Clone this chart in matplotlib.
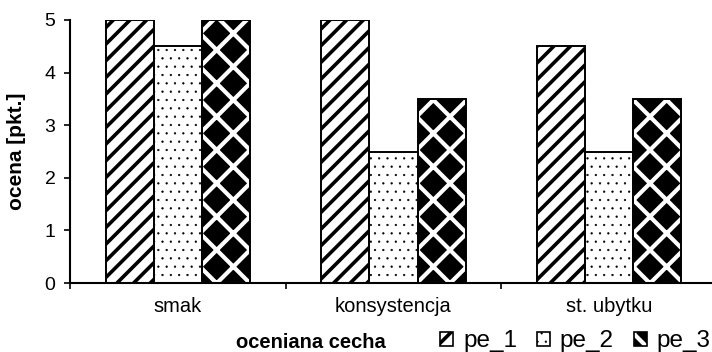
import matplotlib
matplotlib.use("Agg")
import matplotlib.pyplot as plt
import numpy as np
from matplotlib.patches import Patch, Rectangle

plt.rcParams['font.family'] = ['Liberation Sans', 'DejaVu Sans']

categories = ["smak", "konsystencja", "st. ubytku"]
series_names = ["pe_1", "pe_2", "pe_3"]
pe_1 = [5.0, 5.0, 4.5]
pe_2 = [4.5, 2.5, 2.5]
pe_3 = [5.0, 3.5, 3.5]
yticks = [0, 1, 2, 3, 4, 5]
xlabel = "oceniana cecha"
ylabel = "ocena [pkt.]"

W, H = 712, 352
fig = plt.figure(figsize=(W / 100, H / 100), dpi=100)
ax = fig.add_axes([70 / W, (H - 283) / H, (717 - 70) / W, (283 - 20) / H])

x = np.arange(len(categories))
bw = 0.223
outline_lw = 1.4

HATCH_LW = {'//': 2.6, '..': 0.4, 'x': 3.0}

def hatched_bars(xpos, vals, fc, hc, hatch):
    with plt.rc_context({'hatch.linewidth': HATCH_LW[hatch]}):
        ax.bar(xpos, vals, bw, facecolor=fc, edgecolor=hc, hatch=hatch,
               linewidth=0, zorder=2)
    ax.bar(xpos, vals, bw, facecolor='none', edgecolor='black',
           linewidth=outline_lw, zorder=3)

hatched_bars(x - bw, pe_1, 'white', 'black', '//')
hatched_bars(x, pe_2, 'white', 'black', '..')
hatched_bars(x + bw, pe_3, 'black', 'white', 'x')

ax.set_xlim(-0.5, 2.5)
ax.set_ylim(0, 5)
ax.set_yticks(yticks)
ax.set_yticklabels([str(t) for t in yticks], fontsize=14)
ax.set_xticks([-0.5, 0.5, 1.5, 2.5])
ax.set_xticklabels([])
ax.set_xticks(x, minor=True)
ax.set_xticklabels(categories, minor=True, fontsize=14.5)
ax.tick_params(axis='x', which='minor', length=0, pad=10)
ax.tick_params(axis='x', which='major', length=4.5, width=1.2, direction='out')
ax.tick_params(axis='y', length=4.5, width=1.2, direction='out', pad=6)

for s in ['top', 'right']:
    ax.spines[s].set_visible(False)
for s in ['left', 'bottom']:
    ax.spines[s].set_linewidth(1.5)
ax.spines['bottom'].set_zorder(4)

ax.set_ylabel(ylabel, fontsize=15, fontweight='bold', va='center')
ax.yaxis.set_label_coords((17 - 70) / 647, 0.5)
ax.set_xlabel(xlabel, fontsize=14.5, fontweight='bold', va='center')
ax.xaxis.set_label_coords((311 - 70) / 647, (283 - 342) / 263)

h1 = Patch(facecolor='white', edgecolor='black', hatch='//', linewidth=1.2)
h2 = Patch(facecolor='white', edgecolor='black', hatch='..', linewidth=1.2)
h3a = Patch(facecolor='black', edgecolor='white', hatch='x', linewidth=0)
h3b = Patch(facecolor='none', edgecolor='black', linewidth=1.2)
fig.legend([h1, h2, (h3a, h3b)], series_names, loc='center left',
           bbox_to_anchor=(440 / W, 1 - 341.5 / H), bbox_transform=fig.transFigure,
           ncol=3, frameon=False, fontsize=17.5, handlelength=0.535, handleheight=0.535,
           handletextpad=0.41, columnspacing=0.82, borderpad=0, borderaxespad=0)

for art in fig.findobj(Rectangle):
    hp = art.get_hatch()
    if hp in HATCH_LW:
        if hasattr(art, 'set_hatch_linewidth'):
            art.set_hatch_linewidth(HATCH_LW[hp])
        else:
            art._hatch_linewidth = HATCH_LW[hp]

fig.savefig("out.png", dpi=100)
